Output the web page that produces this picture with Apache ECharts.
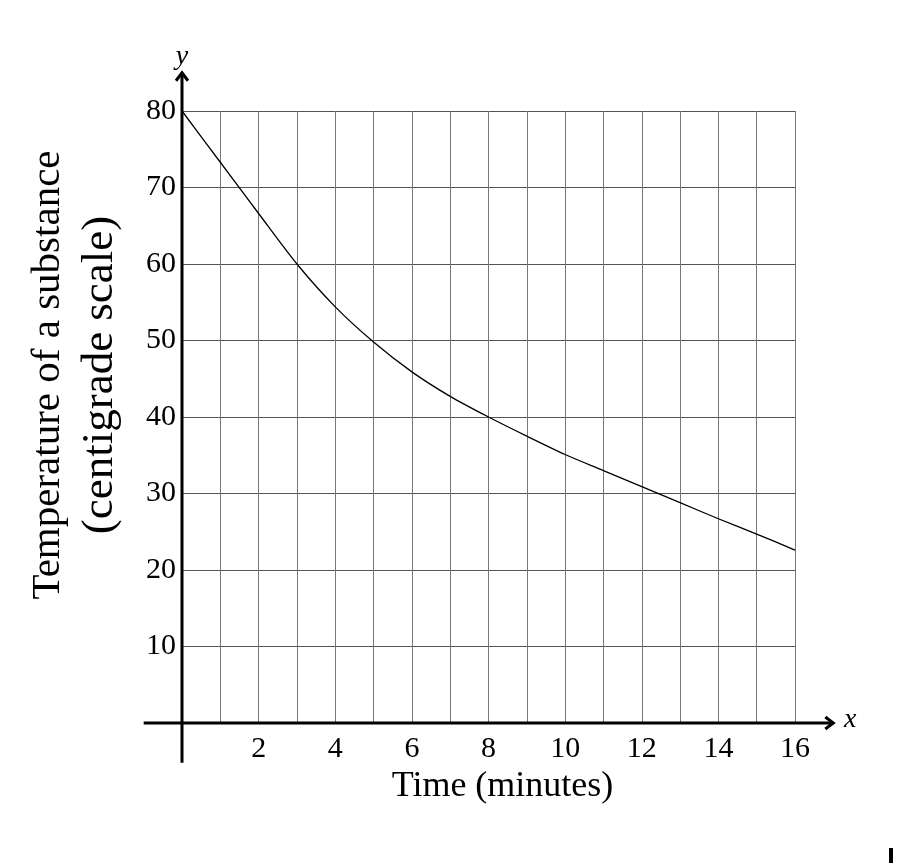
<!DOCTYPE html>
<html>
<head>
<meta charset="utf-8">
<script src="https://cdn.jsdelivr.net/npm/echarts@6/dist/echarts.min.js"></script>
<style>
html,body{margin:0;padding:0;background:#fff;}
#c{width:900px;height:864px;}
</style>
</head>
<body>
<div id="c"></div>
<script>
// Data
const timeMinutes = [0,1,2,3,4,5,6,7,8,9,10,11,12,13,14,15,16];
const temperature = [80,73.3,66.6,60,54.4,49.8,45.9,42.7,40,37.5,35.1,33,30.9,28.8,26.7,24.7,22.6];
const xTickLabels = ['2','4','6','8','10','12','14','16'];
const yTickLabels = ['10','20','30','40','50','60','70','80'];
const xTitle = 'Time (minutes)';
const yTitleLine1 = 'Temperature of a substance';
const yTitleLine2 = '(centigrade scale)';
const xAxisExtent = [-1, 17];
const yAxisExtent = [-5.2, 85];

const FONT = '"Liberation Serif", "DejaVu Serif", serif';
const chart = echarts.init(document.getElementById('c'));

const option = {
  animation: false,
  backgroundColor: '#fff',
  grid: {left: 182, right: 105, top: 111, bottom: 141, containLabel: false, outerBoundsMode: 'none'},
  xAxis: {
    type: 'value', min: 0, max: 16, interval: 1,
    axisLine: {show: false},
    axisTick: {show: false},
    splitLine: {show: true, lineStyle: {color: '#777', width: 1}},
    axisLabel: {
      margin: 11, color: '#000', fontFamily: FONT, fontSize: 30,
      formatter: v => xTickLabels.includes(String(v)) ? String(v) : ''
    },
    name: xTitle, nameLocation: 'middle', nameGap: 27,
    nameTextStyle: {fontFamily: FONT, fontSize: 36, color: '#000', padding: [0, 0, 0, 28]}
  },
  yAxis: {
    type: 'value', min: 0, max: 80, interval: 10,
    axisLine: {show: false},
    axisTick: {show: false},
    splitLine: {show: true, lineStyle: {color: '#555', width: 1}},
    axisLabel: {
      margin: 6, color: '#000', fontFamily: FONT, fontSize: 30,
      formatter: v => yTickLabels.includes(String(v)) ? String(v) : ''
    },
    name: '{a|' + yTitleLine1 + '}\n{b|' + yTitleLine2 + '}',
    nameLocation: 'middle', nameGap: 56, nameRotate: 90,
    nameTextStyle: {
      fontFamily: FONT, color: '#000', align: 'center', padding: [0, 0, 0, 84],
      rich: {
        a: {fontFamily: FONT, fontSize: 41, lineHeight: 52, color: '#000'},
        b: {fontFamily: FONT, fontSize: 45, lineHeight: 52, color: '#000'}
      }
    }
  },
  series: [{
    type: 'line',
    data: timeMinutes.map((t, i) => [t, temperature[i]]),
    smooth: 0.3,
    showSymbol: false,
    lineStyle: {color: '#000', width: 1.3},
    z: 5
  }]
};
chart.setOption(option);

// Axis lines with arrows, positioned through the chart's own scales
const p = (x, y) => chart.convertToPixel({gridIndex: 0}, [x, y]);
const xs = p(xAxisExtent[0], 0), xe = p(xAxisExtent[1], 0);
const ys = p(0, yAxisExtent[0]), ye = p(0, yAxisExtent[1]);
const a = 8;
chart.setOption({
  graphic: [
    {type: 'line', shape: {x1: xs[0], y1: xs[1], x2: xe[0], y2: xe[1]}, style: {stroke: '#000', lineWidth: 3}, z: 10},
    {type: 'polyline', shape: {points: [[xe[0]-a, xe[1]-a*0.75], [xe[0], xe[1]], [xe[0]-a, xe[1]+a*0.75]]}, style: {stroke: '#000', lineWidth: 3, fill: null}, z: 10},
    {type: 'line', shape: {x1: ys[0], y1: ys[1], x2: ye[0], y2: ye[1]}, style: {stroke: '#000', lineWidth: 3}, z: 10},
    {type: 'polyline', shape: {points: [[ye[0]-a*0.75, ye[1]+a], [ye[0], ye[1]], [ye[0]+a*0.75, ye[1]+a]]}, style: {stroke: '#000', lineWidth: 3, fill: null}, z: 10},
    {type: 'text', x: xe[0] + 17, y: xe[1] - 3, style: {text: 'x', font: 'italic 28px ' + FONT, fill: '#000', align: 'center', verticalAlign: 'middle'}, z: 10},
    {type: 'text', x: ye[0], y: ye[1] - 16, style: {text: 'y', font: 'italic 28px ' + FONT, fill: '#000', align: 'center', verticalAlign: 'middle'}, z: 10},
    {type: 'rect', shape: {x: 889, y: 848, width: 4, height: 15}, style: {fill: '#000'}}
  ]
});
</script>
</body>
</html>
